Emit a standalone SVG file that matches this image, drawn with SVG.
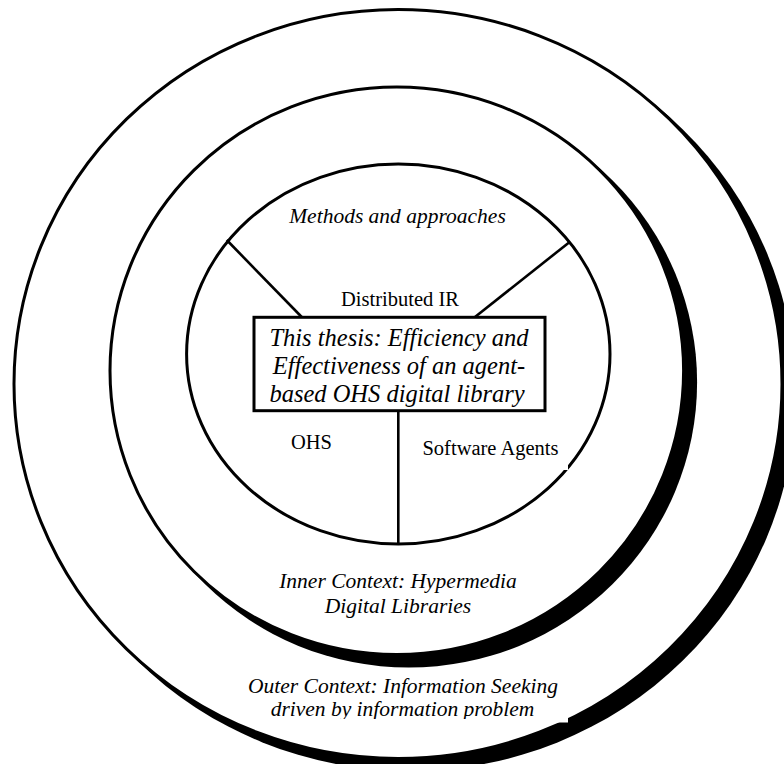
<svg xmlns="http://www.w3.org/2000/svg" width="784" height="764" viewBox="0 0 784 764">
  <defs>
    <style>
      .ring { fill: #fff; stroke: #000; stroke-width: 3; }
      .shadow { fill: #000; stroke: none; }
      .line { stroke: #000; stroke-width: 2.6; fill: none; }
      .box { fill: #fff; stroke: #000; stroke-width: 3; }
      .lbl { font-family: "Liberation Serif", serif; fill: #000; text-anchor: middle; }
      .it { font-style: italic; font-size: 21.5px; }
      .rg { font-size: 20.5px; }
      .big { font-style: italic; font-size: 24.5px; }
      .mask { fill: #fff; stroke: none; }
    </style>
    <clipPath id="outerTextClip">
      <rect x="200" y="660" width="380" height="59"/>
    </clipPath>
  </defs>

  <rect width="784" height="764" fill="#fff"/>

  <!-- outer context ring with drop shadow -->
  <g id="outer-context">
    <ellipse class="shadow" cx="410" cy="395" rx="385.5" ry="376"/>
    <ellipse class="ring" cx="398" cy="384" rx="384" ry="374.5"/>
  </g>

  <!-- inner context ring with drop shadow -->
  <g id="inner-context">
    <ellipse class="shadow" cx="408.8" cy="382.3" rx="288.3" ry="285.3"/>
    <ellipse class="ring" cx="396.8" cy="370.8" rx="286.8" ry="283.8"/>
  </g>

  <!-- core circle -->
  <g id="core">
    <ellipse class="ring" cx="398.3" cy="354" rx="211.7" ry="190" stroke-width="2.6"/>
  </g>

  <!-- dividers between the areas of the core -->
  <g id="connectors">
    <line class="line" x1="226.7" y1="240" x2="301.7" y2="317"/>
    <line class="line" x1="570" y1="241.7" x2="475" y2="317"/>
    <line class="line" x1="398.3" y1="411" x2="398.3" y2="545"/>
  </g>

  <!-- text box backgrounds that clip the rings slightly -->
  <rect class="mask" x="412" y="430" width="156" height="40"/>
  <rect class="mask" x="440" y="700" width="128" height="22.5"/>

  <g id="thesis">
    <rect class="box" x="254" y="317.3" width="291" height="93.4"/>
    <text class="lbl big" x="399" y="346">This thesis: Efficiency and</text>
    <text class="lbl big" x="399" y="374">Effectiveness of an agent-</text>
    <text class="lbl big" x="397" y="402">based OHS digital library</text>
  </g>

  <g id="methods">
    <text class="lbl it" x="397.5" y="223">Methods and approaches</text>
  </g>

  <g id="distributed-ir">
    <text class="lbl rg" x="400" y="306">Distributed IR</text>
  </g>

  <g id="ohs">
    <text class="lbl rg" x="311.5" y="449">OHS</text>
  </g>

  <g id="software-agents">
    <text class="lbl rg" x="490.5" y="455">Software Agents</text>
  </g>

  <g id="inner-label">
    <text class="lbl it" x="398" y="588">Inner Context: Hypermedia</text>
    <text class="lbl it" x="398" y="613">Digital Libraries</text>
  </g>

  <g id="outer-label" clip-path="url(#outerTextClip)">
    <text class="lbl it" x="403" y="693">Outer Context: Information Seeking</text>
    <text class="lbl it" x="402.5" y="715.5">driven by information problem</text>
  </g>
</svg>
